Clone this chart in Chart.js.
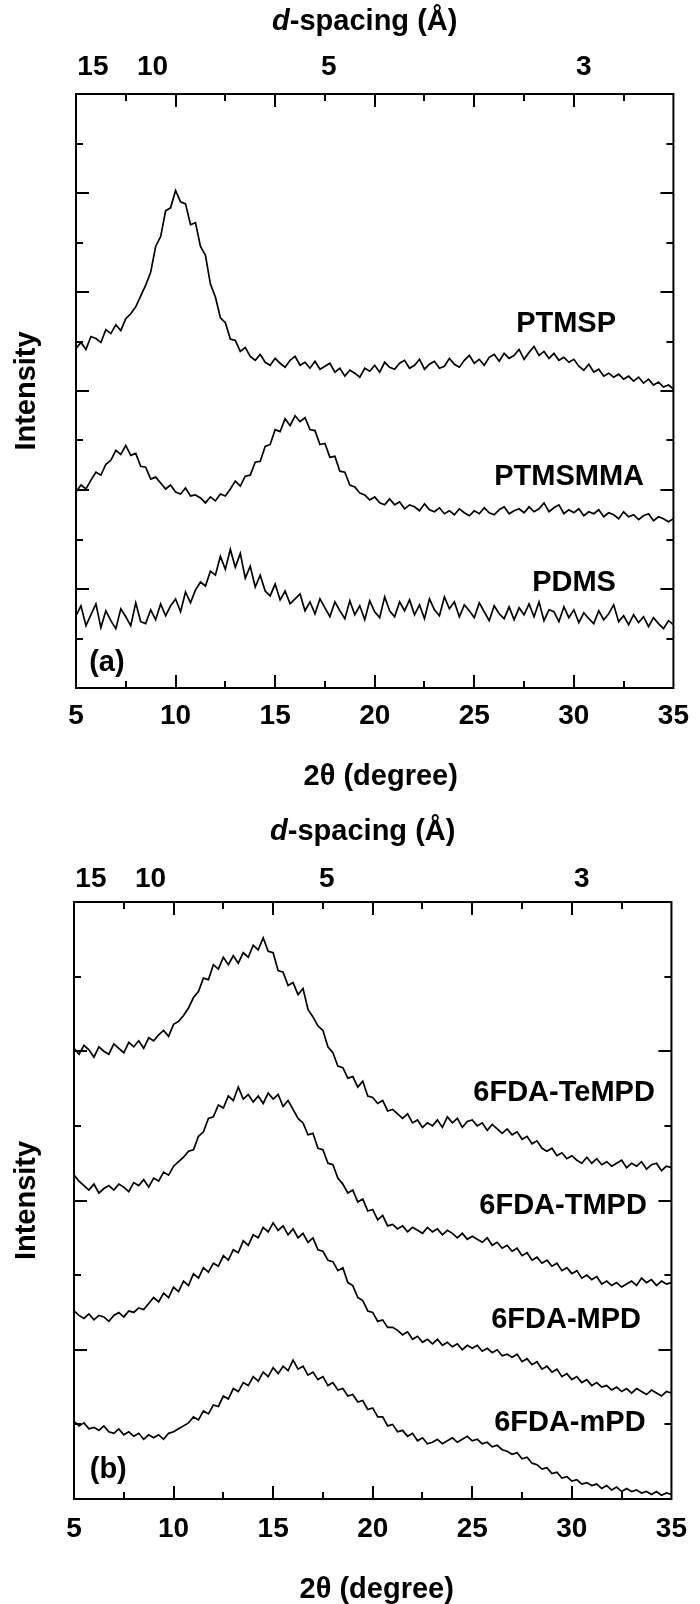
<!DOCTYPE html>
<html>
<head>
<meta charset="utf-8">
<title>WAXD patterns</title>
<script src="https://cdn.jsdelivr.net/npm/chart.js@4.4.1/dist/chart.umd.min.js"></script>
<style>
  html, body { margin: 0; padding: 0; background: #fff; }
  body { width: 700px; height: 1604px; position: relative; overflow: hidden; }
  canvas { position: absolute; left: 0; }
  #panelA { top: 0; }
  #panelB { top: 800px; }
</style>
</head>
<body>
<canvas id="panelA" width="700" height="800"></canvas>
<canvas id="panelB" width="700" height="804"></canvas>
<script>
// 2θ sampling (degree), shared by every pattern
const twoTheta = [
  5, 5.25, 5.5, 5.75, 6, 6.25, 6.5, 6.75,
  7, 7.25, 7.5, 7.75, 8, 8.25, 8.5, 8.75,
  9, 9.25, 9.5, 9.75, 10, 10.25, 10.5, 10.75,
  11, 11.25, 11.5, 11.75, 12, 12.25, 12.5, 12.75,
  13, 13.25, 13.5, 13.75, 14, 14.25, 14.5, 14.75,
  15, 15.25, 15.5, 15.75, 16, 16.25, 16.5, 16.75,
  17, 17.25, 17.5, 17.75, 18, 18.25, 18.5, 18.75,
  19, 19.25, 19.5, 19.75, 20, 20.25, 20.5, 20.75,
  21, 21.25, 21.5, 21.75, 22, 22.25, 22.5, 22.75,
  23, 23.25, 23.5, 23.75, 24, 24.25, 24.5, 24.75,
  25, 25.25, 25.5, 25.75, 26, 26.25, 26.5, 26.75,
  27, 27.25, 27.5, 27.75, 28, 28.25, 28.5, 28.75,
  29, 29.25, 29.5, 29.75, 30, 30.25, 30.5, 30.75,
  31, 31.25, 31.5, 31.75, 32, 32.25, 32.5, 32.75,
  33, 33.25, 33.5, 33.75, 34, 34.25, 34.5, 34.75,
  35
];

// panel (a): intensity, offset patterns (arb. units)
const ptmsp = [
  6.86, 6.98, 6.84, 7.10, 7.06, 6.98, 7.24, 7.16,
  7.34, 7.22, 7.46, 7.56, 7.70, 7.92, 8.14, 8.40,
  8.92, 9.12, 9.64, 9.70, 10.05, 9.82, 9.78, 9.36,
  9.40, 8.92, 8.74, 8.16, 7.90, 7.48, 7.38, 7.05,
  7.02, 6.80, 6.88, 6.70, 6.62, 6.74, 6.58, 6.52,
  6.66, 6.56, 6.48, 6.62, 6.70, 6.52, 6.58, 6.46,
  6.60, 6.44, 6.50, 6.56, 6.38, 6.46, 6.30, 6.42,
  6.36, 6.28, 6.46, 6.40, 6.52, 6.38, 6.58, 6.48,
  6.44, 6.56, 6.62, 6.46, 6.52, 6.64, 6.44, 6.54,
  6.60, 6.46, 6.50, 6.66, 6.54, 6.48, 6.62, 6.72,
  6.56, 6.64, 6.52, 6.68, 6.74, 6.60, 6.76, 6.66,
  6.72, 6.84, 6.64, 6.78, 6.90, 6.72, 6.80, 6.66,
  6.76, 6.62, 6.68, 6.58, 6.64, 6.50, 6.42, 6.54,
  6.38, 6.44, 6.30, 6.36, 6.28, 6.34, 6.24, 6.30,
  6.20, 6.28, 6.16, 6.24, 6.12, 6.18, 6.08, 6.12,
  6.04
];
const ptmsmma = [
  3.96, 4.10, 4.02, 4.20, 4.36, 4.30, 4.52, 4.60,
  4.80, 4.72, 4.90, 4.70, 4.74, 4.48, 4.46, 4.22,
  4.26, 4.14, 4.02, 4.10, 3.96, 3.92, 4.04, 3.88,
  3.90, 3.84, 3.74, 3.86, 3.78, 3.92, 3.88, 4.02,
  4.18, 4.08, 4.28, 4.30, 4.56, 4.58, 4.88, 4.92,
  5.22, 5.18, 5.44, 5.30, 5.50, 5.38, 5.46, 5.22,
  5.20, 4.92, 4.94, 4.66, 4.68, 4.38, 4.36, 4.10,
  4.06, 3.94, 3.90, 3.80, 3.86, 3.74, 3.70, 3.82,
  3.70, 3.76, 3.62, 3.70, 3.66, 3.58, 3.72, 3.60,
  3.56, 3.64, 3.52, 3.58, 3.50, 3.62, 3.54, 3.48,
  3.58, 3.52, 3.64, 3.54, 3.50, 3.60, 3.66, 3.52,
  3.58, 3.62, 3.54, 3.66, 3.56, 3.62, 3.74, 3.56,
  3.64, 3.70, 3.52, 3.60, 3.54, 3.62, 3.48, 3.56,
  3.52, 3.60, 3.46, 3.54, 3.50, 3.42, 3.56, 3.46,
  3.50, 3.40, 3.48, 3.52, 3.38, 3.46, 3.42, 3.36,
  3.42
];
const pdms = [
  1.46, 1.66, 1.26, 1.48, 1.70, 1.22, 1.56, 1.36,
  1.20, 1.60, 1.44, 1.26, 1.72, 1.34, 1.30, 1.58,
  1.38, 1.70, 1.46, 1.66, 1.80, 1.54, 1.94, 1.72,
  1.98, 2.14, 2.06, 2.36, 2.28, 2.66, 2.40, 2.80,
  2.44, 2.72, 2.22, 2.46, 2.04, 2.28, 1.96, 1.86,
  2.10, 1.78, 1.96, 1.70, 1.80, 1.90, 1.56, 1.74,
  1.50, 1.80, 1.62, 1.44, 1.74, 1.56, 1.40, 1.76,
  1.48, 1.66, 1.38, 1.76, 1.54, 1.42, 1.84, 1.56,
  1.44, 1.74, 1.56, 1.78, 1.48, 1.68, 1.40, 1.80,
  1.58, 1.46, 1.84, 1.60, 1.74, 1.44, 1.68, 1.56,
  1.42, 1.72, 1.54, 1.36, 1.66, 1.50, 1.40, 1.64,
  1.38, 1.62, 1.48, 1.70, 1.44, 1.74, 1.36, 1.58,
  1.54, 1.34, 1.64, 1.42, 1.58, 1.32, 1.52, 1.40,
  1.30, 1.56, 1.38, 1.50, 1.68, 1.34, 1.46, 1.28,
  1.48, 1.32, 1.44, 1.24, 1.42, 1.30, 1.20, 1.36,
  1.28
];

// panel (b): 6FDA polyimides
const tempd = [
  6.04, 5.96, 6.08, 6.02, 5.92, 6.06, 6.00, 5.96,
  6.10, 6.04, 5.98, 6.12, 6.06, 6.14, 6.04, 6.18,
  6.14, 6.22, 6.28, 6.20, 6.36, 6.40, 6.48, 6.58,
  6.72, 6.80, 6.98, 6.96, 7.16, 7.10, 7.26, 7.16,
  7.28, 7.18, 7.32, 7.26, 7.42, 7.36, 7.52, 7.34,
  7.32, 7.08, 7.06, 6.88, 6.92, 6.76, 6.84, 6.56,
  6.46, 6.34, 6.28, 6.06, 5.98, 5.80, 5.78, 5.64,
  5.66, 5.52, 5.60, 5.40, 5.38, 5.30, 5.34, 5.20,
  5.22, 5.16, 5.10, 5.16, 5.04, 5.08, 4.98, 5.04,
  5.00, 5.08, 4.98, 5.12, 5.04, 5.10, 4.98, 5.06,
  5.08, 5.00, 5.04, 4.94, 5.02, 4.96, 4.90, 4.96,
  4.88, 4.92, 4.82, 4.86, 4.76, 4.80, 4.70, 4.66,
  4.70, 4.60, 4.64, 4.56, 4.60, 4.54, 4.50, 4.58,
  4.50, 4.56, 4.48, 4.52, 4.46, 4.50, 4.54, 4.44,
  4.50, 4.46, 4.52, 4.42, 4.48, 4.50, 4.40, 4.46,
  4.44
];
const tmpd = [
  4.34, 4.26, 4.20, 4.14, 4.22, 4.10, 4.16, 4.20,
  4.14, 4.22, 4.18, 4.12, 4.24, 4.20, 4.28, 4.18,
  4.30, 4.26, 4.38, 4.34, 4.46, 4.52, 4.58, 4.66,
  4.68, 4.86, 4.92, 5.10, 5.12, 5.28, 5.24, 5.40,
  5.34, 5.52, 5.36, 5.42, 5.32, 5.40, 5.30, 5.44,
  5.36, 5.42, 5.26, 5.34, 5.22, 5.10, 5.04, 4.88,
  4.90, 4.70, 4.68, 4.50, 4.48, 4.30, 4.22, 4.10,
  4.14, 3.98, 4.02, 3.86, 3.88, 3.74, 3.80, 3.66,
  3.68, 3.62, 3.66, 3.58, 3.64, 3.60, 3.56, 3.64,
  3.58, 3.62, 3.54, 3.60, 3.56, 3.50, 3.56, 3.48,
  3.52, 3.48, 3.44, 3.50, 3.40, 3.44, 3.36, 3.40,
  3.32, 3.36, 3.26, 3.30, 3.20, 3.24, 3.16, 3.20,
  3.12, 3.16, 3.06, 3.10, 3.02, 3.06, 2.96, 3.00,
  2.94, 2.98, 2.88, 2.92, 2.86, 2.90, 2.84, 2.88,
  2.92, 2.86, 2.96, 2.90, 2.94, 2.86, 2.92, 2.88,
  2.90
];
const mpd = [
  2.52, 2.46, 2.42, 2.48, 2.40, 2.46, 2.44, 2.38,
  2.46, 2.50, 2.44, 2.52, 2.50, 2.56, 2.54, 2.62,
  2.70, 2.64, 2.76, 2.70, 2.84, 2.78, 2.92, 2.86,
  3.02, 2.96, 3.10, 3.04, 3.16, 3.12, 3.26, 3.20,
  3.34, 3.30, 3.46, 3.40, 3.54, 3.50, 3.64, 3.58,
  3.70, 3.60, 3.66, 3.54, 3.62, 3.50, 3.56, 3.44,
  3.50, 3.34, 3.32, 3.20, 3.18, 3.06, 3.10, 2.90,
  2.86, 2.70, 2.66, 2.52, 2.50, 2.38, 2.40, 2.30,
  2.30, 2.26, 2.20, 2.24, 2.14, 2.18, 2.10, 2.14,
  2.08, 2.14, 2.06, 2.10, 2.04, 2.08, 2.00, 2.06,
  2.02, 2.06, 1.98, 2.02, 1.96, 2.00, 1.92, 1.94,
  1.90, 1.94, 1.84, 1.88, 1.80, 1.84, 1.74, 1.78,
  1.70, 1.74, 1.64, 1.68, 1.60, 1.64, 1.56, 1.60,
  1.52, 1.56, 1.50, 1.52, 1.46, 1.50, 1.44, 1.48,
  1.42, 1.48, 1.44, 1.40, 1.46, 1.42, 1.38, 1.44,
  1.42
];
const mpdMeta = [
  1.04, 0.98, 1.02, 0.94, 0.96, 0.92, 0.98, 0.90,
  0.88, 0.94, 0.86, 0.90, 0.84, 0.88, 0.80, 0.86,
  0.82, 0.86, 0.80, 0.88, 0.90, 0.94, 0.98, 1.02,
  1.10, 1.06, 1.18, 1.14, 1.26, 1.24, 1.38, 1.34,
  1.48, 1.44, 1.56, 1.52, 1.64, 1.58, 1.70, 1.64,
  1.76, 1.68, 1.78, 1.72, 1.86, 1.74, 1.78, 1.66,
  1.70, 1.60, 1.64, 1.52, 1.56, 1.46, 1.48, 1.38,
  1.40, 1.30, 1.32, 1.20, 1.22, 1.10, 1.10, 0.98,
  1.00, 0.90, 0.92, 0.84, 0.88, 0.78, 0.82, 0.74,
  0.76, 0.80, 0.74, 0.78, 0.82, 0.76, 0.80, 0.84,
  0.78, 0.80, 0.74, 0.76, 0.70, 0.72, 0.66, 0.64,
  0.60, 0.62, 0.54, 0.56, 0.48, 0.46, 0.40, 0.42,
  0.34, 0.36, 0.28, 0.30, 0.24, 0.26, 0.20, 0.22,
  0.18, 0.20, 0.14, 0.18, 0.12, 0.16, 0.10, 0.14,
  0.10, 0.12, 0.08, 0.10, 0.06, 0.10, 0.05, 0.08,
  0.06
];

const namesA = ['PTMSP', 'PTMSMMA', 'PDMS'];
const namesB = ['6FDA-TeMPD', '6FDA-TMPD', '6FDA-MPD', '6FDA-mPD'];

// top axis: d-spacing labels and the 2θ where each one sits
const dSpacingLabels = ['15', '10', '5', '3'];
const dSpacingTheta = [5.85, 8.84, 17.7, 30.5];

const FONT = '"Liberation Sans", Arial, Helvetica, sans-serif';

// closed frame with inward ticks on all four sides
const frameAndTicks = {
  id: 'frameAndTicks',
  afterDatasetsDraw(chart, args, opts) {
    const { ctx, chartArea: { left, right, top, bottom }, scales: { x, y } } = chart;
    ctx.save();
    ctx.strokeStyle = '#000';
    ctx.lineWidth = 2;
    ctx.beginPath();
    for (let v = x.min + 2.5; v < x.max; v += 2.5) {
      const px = Math.round(x.getPixelForValue(v));
      const len = v % 5 === 0 ? opts.major : opts.minor;
      ctx.moveTo(px, bottom); ctx.lineTo(px, bottom - len);
      ctx.moveTo(px, top); ctx.lineTo(px, top + len);
    }
    for (let v = y.min + 1; v < y.max; v += 1) {
      const py = Math.round(y.getPixelForValue(v));
      const len = v % 2 === 0 ? opts.major : opts.minor;
      ctx.moveTo(left, py); ctx.lineTo(left + len, py);
      ctx.moveTo(right, py); ctx.lineTo(right - len, py);
    }
    ctx.stroke();
    ctx.strokeRect(left, top, right - left, bottom - top);
    ctx.restore();
  }
};

// titles, d-spacing labels, panel tag and curve names
const figureText = {
  id: 'figureText',
  afterDraw(chart, args, opts) {
    const { ctx, chartArea: { top, bottom }, scales: { x, y } } = chart;
    const bold = `bold ${opts.titleSize}px ${FONT}`;
    const italic = `italic bold ${opts.titleSize}px ${FONT}`;
    ctx.save();
    ctx.fillStyle = '#000';
    ctx.textBaseline = 'middle';

    ctx.font = italic;
    const wD = ctx.measureText('d').width;
    ctx.font = bold;
    const wRest = ctx.measureText('-spacing (Å)').width;
    const tx = x.getPixelForValue(opts.dTitleAt) - (wD + wRest) / 2;
    const ty = top - opts.dTitleGap;
    ctx.textAlign = 'left';
    ctx.font = italic;
    ctx.fillText('d', tx, ty);
    ctx.font = bold;
    ctx.fillText('-spacing (Å)', tx + wD, ty);

    ctx.textAlign = 'center';
    ctx.font = `bold ${opts.tickSize}px ${FONT}`;
    dSpacingLabels.forEach((t, i) => {
      ctx.fillText(t, x.getPixelForValue(dSpacingTheta[i]), top - opts.dLabelGap);
    });

    ctx.font = bold;
    ctx.fillText('2θ (degree)', x.getPixelForValue(opts.xTitleAt), bottom + opts.xTitleGap);

    ctx.save();
    ctx.translate(opts.yTitleX, y.getPixelForValue(opts.yTitleAt));
    ctx.rotate(-Math.PI / 2);
    ctx.fillText('Intensity', 0, 0);
    ctx.restore();

    ctx.font = `bold ${opts.labelSize}px ${FONT}`;
    ctx.fillText(opts.tag, x.getPixelForValue(opts.tagAt[0]), y.getPixelForValue(opts.tagAt[1]));
    opts.names.forEach((name, i) => {
      const at = opts.nameAt[i];
      ctx.fillText(name, x.getPixelForValue(at[0]), y.getPixelForValue(at[1]));
    });
    ctx.restore();
  }
};

function makePanel(canvasId, cfg) {
  const ctx = document.getElementById(canvasId).getContext('2d');
  return new Chart(ctx, {
    type: 'line',
    data: {
      datasets: cfg.series.map((values, i) => ({
        label: cfg.text.names[i],
        data: twoTheta.map((t, k) => ({ x: t, y: values[k] })),
        borderColor: '#000',
        borderWidth: 1.7,
        pointRadius: 0,
        tension: 0,
        fill: false
      }))
    },
    options: {
      responsive: false,
      animation: false,
      devicePixelRatio: 1,
      layout: { padding: { top: cfg.area.top, right: cfg.area.right, left: 0, bottom: 0 } },
      plugins: {
        legend: { display: false },
        tooltip: { enabled: false },
        frameAndTicks: { major: 13, minor: 7 },
        figureText: cfg.text
      },
      scales: {
        x: {
          type: 'linear',
          position: 'bottom',
          min: 5,
          max: 35,
          grid: { display: false, drawTicks: false },
          border: { display: false },
          ticks: {
            stepSize: 5,
            autoSkip: false,
            maxRotation: 0,
            padding: cfg.area.tickPad,
            color: '#000',
            font: { family: FONT, size: 28, weight: 'bold' }
          },
          afterFit: scale => { scale.height = cfg.area.xAxis; }
        },
        y: {
          min: 0,
          max: cfg.yMax,
          grid: { display: false, drawTicks: false },
          border: { display: false },
          ticks: { display: false, stepSize: 1 },
          afterFit: scale => { scale.width = cfg.area.left; }
        }
      }
    },
    plugins: [frameAndTicks, figureText]
  });
}

makePanel('panelA', {
  series: [ptmsp, ptmsmma, pdms],
  yMax: 12,
  area: { top: 94, left: 76, right: 23, xAxis: 112, tickPad: 11 },
  text: {
    titleSize: 29, tickSize: 28, labelSize: 29,
    dTitleAt: 19.5, dTitleGap: 72, dLabelGap: 27,
    xTitleAt: 20.3, xTitleGap: 89,
    yTitleX: 27, yTitleAt: 6.0,
    tag: '(a)', tagAt: [6.55, 0.5],
    names: namesA,
    nameAt: [[29.61, 7.35], [29.76, 4.26], [30.01, 2.12]]
  }
});

makePanel('panelB', {
  series: [tempd, tmpd, mpd, mpdMeta],
  yMax: 8,
  area: { top: 102, left: 74, right: 14, xAxis: 105, tickPad: 13 },
  text: {
    titleSize: 29, tickSize: 28, labelSize: 29,
    dTitleAt: 19.5, dTitleGap: 70, dLabelGap: 23,
    xTitleAt: 20.2, xTitleGap: 91,
    yTitleX: 27, yTitleAt: 4.0,
    tag: '(b)', tagAt: [6.72, 0.39],
    names: namesB,
    nameAt: [[29.61, 5.44], [29.56, 3.93], [29.71, 2.40], [29.9, 1.02]]
  }
});
</script>
</body>
</html>
